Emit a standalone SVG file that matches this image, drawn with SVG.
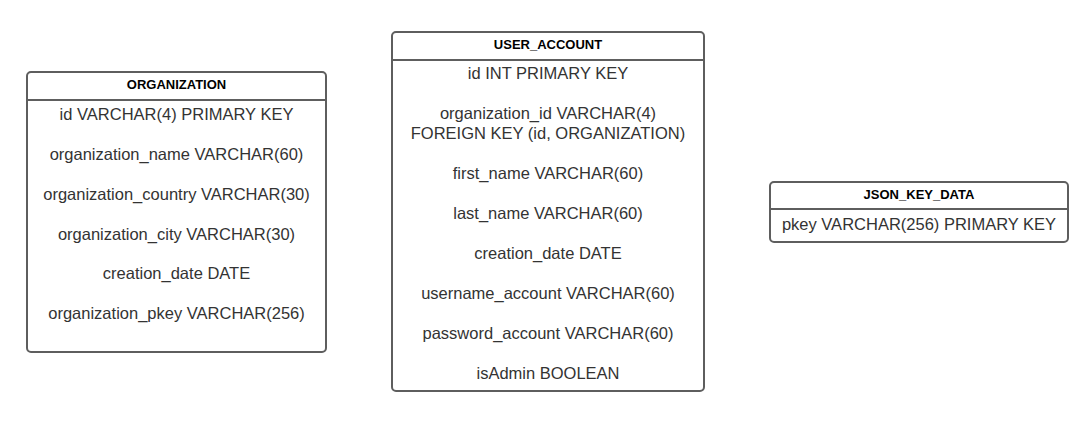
<svg xmlns="http://www.w3.org/2000/svg" width="1090" height="422" viewBox="0 0 1090 422">
<style>
.box{fill:#fff;stroke:#5e5e5e;stroke-width:2}
.div{stroke:#5e5e5e;stroke-width:2}
.hd{font-family:"Liberation Sans",Arial,sans-serif;font-size:13px;font-weight:bold;fill:#000;text-anchor:middle}
.tx{font-family:"Liberation Sans",Arial,sans-serif;font-size:16.5px;fill:#333;text-anchor:middle}
</style>
<rect width="1090" height="422" fill="#fff"/>
<g id="connectors"></g>
<g id="organization">
<rect class="box" x="27" y="72" width="299" height="280" rx="4"/>
<line class="div" x1="27" y1="100" x2="326" y2="100"/>
<text class="hd" x="176.5" y="89">ORGANIZATION</text>
<text class="tx" x="176.5" y="120">id VARCHAR(4) PRIMARY KEY</text>
<text class="tx" x="176.5" y="160">organization_name VARCHAR(60)</text>
<text class="tx" x="176.5" y="200">organization_country VARCHAR(30)</text>
<text class="tx" x="176.5" y="240">organization_city VARCHAR(30)</text>
<text class="tx" x="176.5" y="279">creation_date DATE</text>
<text class="tx" x="176.5" y="319">organization_pkey VARCHAR(256)</text>
</g>
<g id="user_account">
<rect class="box" x="392" y="32" width="312" height="359" rx="4"/>
<line class="div" x1="392" y1="60" x2="704" y2="60"/>
<text class="hd" x="548" y="49">USER_ACCOUNT</text>
<text class="tx" x="548" y="79">id INT PRIMARY KEY</text>
<text class="tx" x="548" y="119">organization_id VARCHAR(4)</text>
<text class="tx" x="548" y="139">FOREIGN KEY (id, ORGANIZATION)</text>
<text class="tx" x="548" y="179">first_name VARCHAR(60)</text>
<text class="tx" x="548" y="219">last_name VARCHAR(60)</text>
<text class="tx" x="548" y="259">creation_date DATE</text>
<text class="tx" x="548" y="299">username_account VARCHAR(60)</text>
<text class="tx" x="548" y="339">password_account VARCHAR(60)</text>
<text class="tx" x="548" y="379">isAdmin BOOLEAN</text>
</g>
<g id="json_key_data">
<rect class="box" x="770" y="182" width="298" height="60" rx="4"/>
<line class="div" x1="770" y1="209" x2="1068" y2="209"/>
<text class="hd" x="919" y="199">JSON_KEY_DATA</text>
<text class="tx" x="919" y="230">pkey VARCHAR(256) PRIMARY KEY</text>
</g>
</svg>
